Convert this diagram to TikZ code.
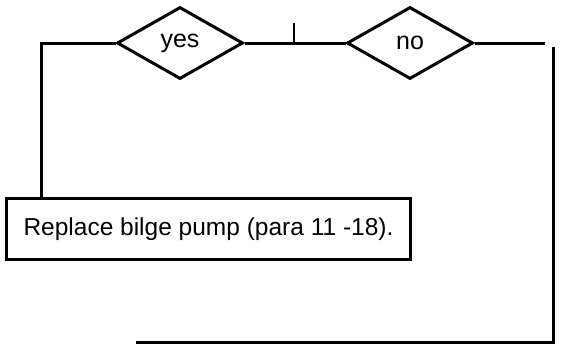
\documentclass[tikz,border=0pt]{standalone}
\usepackage{fontspec}
\setmainfont{Liberation Sans}
\usetikzlibrary{shapes.geometric,positioning}
\def\RowY{43}
\def\RailX{553}
\tikzset{
  choice/.style={
    draw=black, line width=3pt, shape=diamond, aspect=1.73,
    minimum width=126pt, minimum height=72pt, inner sep=0pt,
    font=\fontsize{25}{27}\selectfont,
  },
  action/.style={
    draw=black, line width=3pt, minimum width=404pt, minimum height=61pt,
    inner sep=0pt, font=\fontsize{24.5}{27}\selectfont,
  },
  flow/.style={line width=3pt, draw=black},
}

\begin{document}
\begin{tikzpicture}[x=1pt,y=-1pt]
  \useasboundingbox (0,0) rectangle (561,346);

  \node[choice] (yes) at (180,\RowY) {yes};
  \node[choice] (no) at (410,\RowY) {no};
  \node[action] (fix) at (208.5,229) {Replace bilge pump (para 11 -18).};

  \coordinate (leftturn) at (41,\RowY);
  \coordinate (tickbase) at (294,\RowY);
  \coordinate (ticktop) at (294,23);
  \coordinate (noend) at (545,\RowY);
  \coordinate (railtop) at (\RailX,47);
  \coordinate (railfoot) at (\RailX,342);
  \coordinate (floorend) at (136,342);

  \draw[flow] (yes.west) -- (leftturn) -- (leftturn |- fix.north);
  \draw[flow] (yes.east) -- (no.west);
  \draw[flow, line width=1.5pt] (tickbase) -- (ticktop);
  \draw[flow] (no.east) -- (noend);
  \draw[flow] (railtop) -- (railfoot) -- (floorend);
\end{tikzpicture}
\end{document}
